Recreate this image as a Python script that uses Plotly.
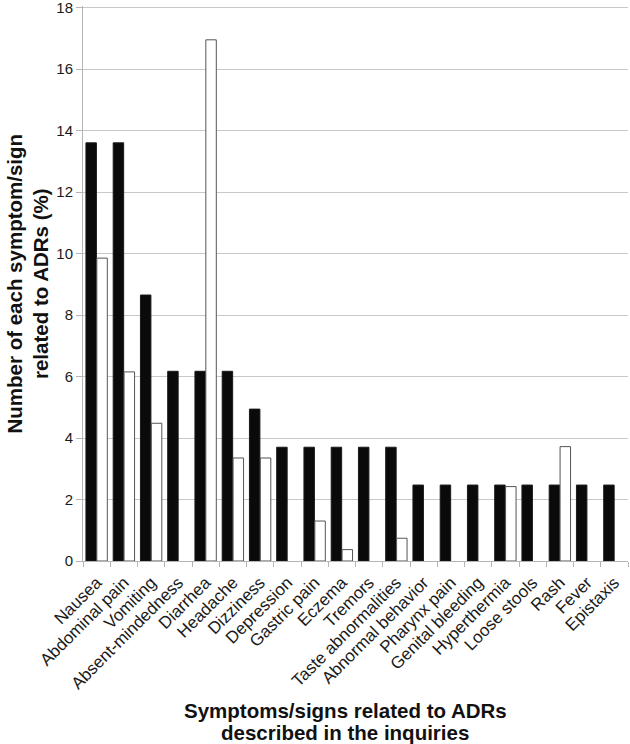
import plotly.graph_objs as go

# Symptoms/signs (x categories)
symptoms = [
    "Nausea", "Abdominal pain", "Vomiting", "Absent-mindedness", "Diarrhea",
    "Headache", "Dizziness", "Depression", "Gastric pain", "Eczema", "Tremors",
    "Taste abnormalities", "Abnormal behavior", "Pharynx pain", "Genital bleeding",
    "Hyperthermia", "Loose stools", "Rash", "Fever", "Epistaxis",
]

# Percent of each symptom/sign
black_series = [13.6, 13.6, 8.65, 6.17, 6.17, 6.17, 4.94, 3.7, 3.7, 3.7, 3.7,
                3.7, 2.47, 2.47, 2.47, 2.47, 2.47, 2.47, 2.47, 2.47]
white_series = [9.85, 6.15, 4.48, 0, 16.95, 3.35, 3.35, 0, 1.3, 0.37, 0,
                0.74, 0, 0, 0, 2.42, 0, 3.72, 0, 0]

y_ticks = [0, 2, 4, 6, 8, 10, 12, 14, 16, 18]

FONT = "Arial, Liberation Sans, sans-serif"

fig = go.Figure()
fig.add_trace(go.Bar(
    x=symptoms, y=black_series, name="black",
    marker=dict(color="#0a0a0a", line=dict(color="#1a1a1a", width=1)),
))
# zero values are not drawn as bars (keeps the slot empty like the original)
fig.add_trace(go.Bar(
    x=symptoms, y=[v if v > 0 else None for v in white_series], name="white",
    marker=dict(color="white", line=dict(color="#555555", width=1)),
))

fig.update_layout(
    width=630, height=744,
    margin=dict(l=83, r=2, t=6, b=183, autoexpand=False),
    plot_bgcolor="white", paper_bgcolor="white",
    showlegend=False,
    barmode="group", bargap=0.2, bargroupgap=0.04,
    font=dict(family=FONT, color="#1a1a1a"),
)
fig.update_yaxes(
    range=[0, 18.05], tickvals=y_ticks, automargin=False,
    ticklabeloverflow="allow",
    showgrid=True, gridcolor="#c8c8c8", gridwidth=1,
    showline=True, linecolor="#b5b5b5", linewidth=1,
    ticks="outside", ticklen=6, tickcolor="#b5b5b5",
    tickfont=dict(size=15, color="#1a1a1a"),
    zeroline=False,
)
fig.update_xaxes(
    tickangle=-45, tickson="boundaries", automargin=False,
    ticklabeloverflow="allow", ticklabelstandoff=4,
    showline=True, linecolor="#b5b5b5", linewidth=1,
    ticks="outside", ticklen=5, tickcolor="#b5b5b5",
    tickfont=dict(size=17, color="#1a1a1a"),
)

# axis titles as annotations for exact placement
fig.add_annotation(
    text="<b>Number of each symptom/sign<br>related to ADRs (%)</b>",
    xref="paper", yref="paper", x=-83 / 545, y=0.5,
    xanchor="left", yanchor="middle", textangle=-90, showarrow=False,
    font=dict(size=20.5, color="#111111", family=FONT),
)
fig.add_annotation(
    text="<b>Symptoms/signs related to ADRs</b>",
    xref="paper", yref="paper", x=(345 - 83) / 545, y=-(710 - 561) / 555,
    xanchor="center", yanchor="middle", showarrow=False,
    font=dict(size=20.5, color="#111111", family=FONT),
)
fig.add_annotation(
    text="<b>described in the inquiries</b>",
    xref="paper", yref="paper", x=(345 - 83) / 545, y=-(732 - 561) / 555,
    xanchor="center", yanchor="middle", showarrow=False,
    font=dict(size=20.5, color="#111111", family=FONT),
)

# page has a default 8px body margin; remove it so the figure sits at 0,0
fig.write_html("out.html", config={"displayModeBar": False},
               post_script="document.body.style.margin='0';")
